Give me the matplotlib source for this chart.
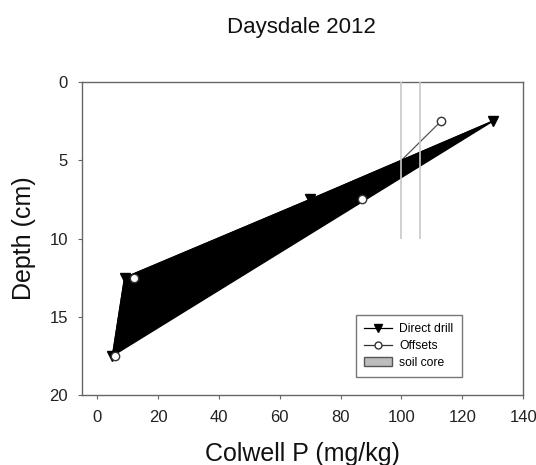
import numpy as np
import matplotlib.pyplot as plt
from matplotlib.patches import Patch
from matplotlib.lines import Line2D

plt.rcParams['font.family'] = ['Liberation Sans', 'DejaVu Sans']

# data
depth = [2.5, 7.5, 12.5, 17.5]
direct_drill = [130, 70, 9, 5]
offsets = [113, 87, 12, 6]
core_x = [100, 106]
core_depth = [0, 10]

fig = plt.figure(figsize=(5.36, 4.65), dpi=100)
ax = fig.add_axes([0.153, 0.1505, 0.823, 0.673])

# offsets line sits under the filled area
ax.plot(offsets, depth, color='#555555', lw=0.9, zorder=2)

# direct drill as closed black polygon
ax.fill(direct_drill, depth, color='black', zorder=3)
ax.plot(direct_drill, depth, color='black', lw=0.9, zorder=3)

# soil core edges
ax.vlines(core_x, core_depth[0], core_depth[1], color='#c8c8c8', lw=1.2, zorder=4)

ax.plot(direct_drill, depth, ls='none', marker='v', ms=6.5, color='black', zorder=5)
ax.plot(offsets, depth, ls='none', marker='o', ms=6, mfc='white', mec='#333333',
        mew=1.0, zorder=6)

ax.set_xlim(-5, 140)
ax.set_ylim(20, 0)
ax.set_xticks(np.arange(0, 141, 20))
ax.set_yticks(np.arange(0, 21, 5))
ax.tick_params(direction='out', length=3, color='#666666', labelsize=12,
               labelcolor='#222222', top=False, right=False)
ax.tick_params(axis='x', pad=8)
ax.tick_params(axis='y', pad=7)
for s in ax.spines.values():
    s.set_color('#666666')
    s.set_linewidth(1.0)

ax.set_xlabel('Colwell P (mg/kg)', fontsize=18, labelpad=12, color='#111111')
ax.set_ylabel('Depth (cm)', fontsize=18, labelpad=10, color='#111111')
fig.text(0.563, 0.941, 'Daysdale 2012', ha='center', va='center', fontsize=16,
         color='#111111')

handles = [
    Line2D([], [], color='black', lw=0.9, marker='v', ms=6),
    Line2D([], [], color='#333333', lw=0.9, marker='o', ms=5, mfc='white'),
    Patch(facecolor='#bdbdbd', edgecolor='#555555'),
]
ax.legend(handles, ['Direct drill', 'Offsets', 'soil core'], loc='lower right',
          bbox_to_anchor=(0.862, 0.189), bbox_transform=fig.transFigure,
          fontsize=8.7, frameon=True, fancybox=False, edgecolor='#555555',
          handlelength=2.3, handletextpad=0.6, borderpad=0.7, labelspacing=0.4,
          borderaxespad=0)

fig.savefig('out.png', dpi=100)
